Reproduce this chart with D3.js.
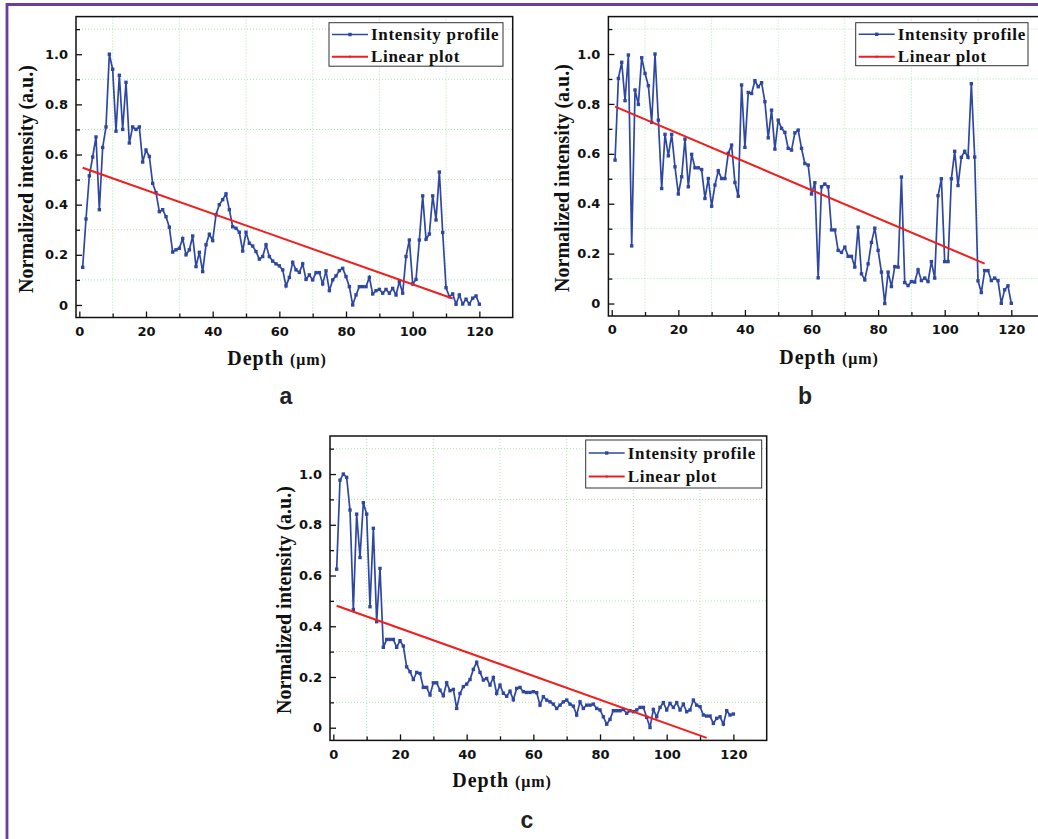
<!DOCTYPE html>
<html>
<head>
<meta charset="utf-8">
<script src="https://cdn.jsdelivr.net/npm/d3@7/dist/d3.min.js"></script>
<style>
  body { margin: 0; background: #fff; }
  svg { display: block; }
</style>
</head>
<body>
<svg id="fig" width="1038" height="839"></svg>
<script>
// depth positions (um), one sample per micron
const depth = d3.range(1, 121);

// normalized intensity profiles
const intensityA = [
  0.15, 0.343, 0.515, 0.59, 0.67, 0.38, 0.628, 0.71, 1.0, 0.94,
  0.693, 0.916, 0.70, 0.888, 0.646, 0.71, 0.70, 0.71, 0.57, 0.618,
  0.592, 0.485, 0.448, 0.372, 0.38, 0.352, 0.31, 0.211, 0.22, 0.226,
  0.265, 0.2, 0.22, 0.275, 0.153, 0.21, 0.133, 0.24, 0.282, 0.257,
  0.36, 0.40, 0.42, 0.443, 0.38, 0.312, 0.306, 0.29, 0.215, 0.29,
  0.246, 0.235, 0.213, 0.183, 0.193, 0.24, 0.193, 0.175, 0.164, 0.156,
  0.14, 0.076, 0.11, 0.17, 0.14, 0.13, 0.164, 0.102, 0.12, 0.1,
  0.129, 0.129, 0.084, 0.136, 0.057, 0.1, 0.116, 0.137, 0.146, 0.113,
  0.073, 0.0, 0.04, 0.073, 0.073, 0.073, 0.11, 0.044, 0.057, 0.062,
  0.047, 0.062, 0.047, 0.066, 0.04, 0.093, 0.047, 0.193, 0.259, 0.084,
  0.102, 0.259, 0.435, 0.262, 0.283, 0.435, 0.339, 0.53, 0.289, 0.069,
  0.033, 0.044, 0.003, 0.04, 0.004, 0.023, 0.004, 0.027, 0.036, 0.003
];
const intensityB = [
  0.575, 0.902, 0.967, 0.813, 0.996, 0.231, 0.856, 0.798, 0.985, 0.922,
  0.873, 0.726, 1.0, 0.735, 0.461, 0.678, 0.592, 0.678, 0.548, 0.439,
  0.508, 0.659, 0.468, 0.598, 0.544, 0.544, 0.537, 0.421, 0.501, 0.39,
  0.475, 0.532, 0.501, 0.501, 0.602, 0.635, 0.485, 0.43, 0.876, 0.626,
  0.846, 0.842, 0.893, 0.869, 0.885, 0.809, 0.664, 0.775, 0.619, 0.735,
  0.702, 0.686, 0.622, 0.615, 0.684, 0.695, 0.622, 0.561, 0.555, 0.439,
  0.484, 0.103, 0.468, 0.479, 0.468, 0.295, 0.295, 0.213, 0.205, 0.226,
  0.189, 0.189, 0.146, 0.306, 0.119, 0.095, 0.159, 0.245, 0.302, 0.213,
  0.126, 0.0, 0.126, 0.068, 0.148, 0.146, 0.507, 0.084, 0.072, 0.088,
  0.086, 0.135, 0.092, 0.102, 0.088, 0.168, 0.102, 0.432, 0.5, 0.168,
  0.168, 0.5, 0.61, 0.473, 0.586, 0.61, 0.586, 0.881, 0.587, 0.091,
  0.044, 0.132, 0.132, 0.092, 0.102, 0.092, 0.001, 0.055, 0.071, 0.001
];
const intensityC = [
  0.625, 0.976, 1.0, 0.987, 0.858, 0.466, 0.842, 0.671, 0.887, 0.842,
  0.477, 0.786, 0.418, 0.628, 0.317, 0.348, 0.348, 0.348, 0.317, 0.343,
  0.322, 0.24, 0.221, 0.19, 0.218, 0.214, 0.159, 0.159, 0.129, 0.177,
  0.177, 0.148, 0.126, 0.177, 0.146, 0.151, 0.076, 0.135, 0.162, 0.172,
  0.19, 0.23, 0.258, 0.218, 0.188, 0.194, 0.168, 0.198, 0.135, 0.168,
  0.136, 0.124, 0.144, 0.11, 0.155, 0.159, 0.142, 0.139, 0.139, 0.142,
  0.138, 0.089, 0.122, 0.109, 0.102, 0.093, 0.076, 0.089, 0.102, 0.109,
  0.093, 0.085, 0.05, 0.102, 0.076, 0.089, 0.089, 0.093, 0.076, 0.07,
  0.043, 0.014, 0.033, 0.067, 0.067, 0.067, 0.072, 0.057, 0.067, 0.063,
  0.07, 0.08, 0.08, 0.041, 0.001, 0.072, 0.043, 0.08, 0.099, 0.07,
  0.096, 0.08, 0.099, 0.07, 0.093, 0.063, 0.07, 0.109, 0.089, 0.083,
  0.05, 0.046, 0.046, 0.017, 0.037, 0.043, 0.014, 0.067, 0.05, 0.054
];

// linear fit end points
const fitDepth = [1, 112];
const fitA = [0.547, 0.026];
const fitB = [0.789, 0.160];
const fitC = [0.481, -0.040];

const xMajor = [0, 20, 40, 60, 80, 100, 120];
const xMinor = [10, 30, 50, 70, 90, 110];
const yMajor = [0, 0.2, 0.4, 0.6, 0.8, 1.0];
const yMinor = [0.1, 0.3, 0.5, 0.7, 0.9, 1.1];
const legendLabels = ["Intensity profile", "Linear plot"];

const BLUE = "#2e47a2";
const RED = "#f21d1d";
const SERIF = "'Liberation Serif', 'Times New Roman', serif";
const SANS = "'DejaVu Sans', Verdana, sans-serif";

const svg = d3.select("#fig");

// purple corner border of the figure
svg.append("line").attr("x1", 7).attr("y1", 4.5).attr("x2", 1038).attr("y2", 4.5)
  .attr("stroke", "#6a3d9e").attr("stroke-width", 2.8);
svg.append("line").attr("x1", 7).attr("y1", 3).attr("x2", 7).attr("y2", 839)
  .attr("stroke", "#6a3d9e").attr("stroke-width", 2.8);

const panels = [
  { values: intensityA, fit: fitA, letter: "a",
    left: 76, right: 512.7, top: 16.6, bottom: 317.5,
    legend: { x: 329, y: 22.7, w: 174, h: 43.5, r1: 11.8, r2: 34 },
    xLab: [277, 365], yLab: [33, 179], letterPos: [286, 404] },
  { values: intensityB, fit: fitB, letter: "b",
    left: 608.4, right: 1044.6, top: 16.6, bottom: 316,
    legend: { x: 855.7, y: 22.7, w: 172.3, h: 43, r1: 11.6, r2: 34 },
    xLab: [829, 364], yLab: [569, 178], letterPos: [805, 404] },
  { values: intensityC, fit: fitC, letter: "c",
    left: 330, right: 766.7, top: 436, bottom: 740.4,
    legend: { x: 585.7, y: 440, w: 176, h: 48, r1: 13, r2: 36.5 },
    xLab: [502, 787], yLab: [291, 600], letterPos: [527, 828] }
];

panels.forEach(drawPanel);

function drawPanel(p) {
  const x = d3.scaleLinear().domain([-1, 130]).range([p.left, p.right]);
  const y = d3.scaleLinear().domain([-0.05, 1.15]).range([p.bottom, p.top]);
  const g = svg.append("g");

  // dotted grid at the minor positions
  g.selectAll(".gx").data(xMinor).enter().append("line")
    .attr("x1", d => x(d)).attr("x2", d => x(d))
    .attr("y1", p.top).attr("y2", p.bottom)
    .attr("stroke", "#9fd89f").attr("stroke-width", 0.8)
    .attr("stroke-dasharray", "1,2");
  g.selectAll(".gy").data(yMinor).enter().append("line")
    .attr("y1", d => y(d)).attr("y2", d => y(d))
    .attr("x1", p.left).attr("x2", p.right)
    .attr("stroke", "#9fd89f").attr("stroke-width", 0.8)
    .attr("stroke-dasharray", "1,2");

  // axes with inward ticks
  const ax = g.append("g").attr("transform", `translate(0,${p.bottom})`)
    .call(d3.axisBottom(x).tickValues(xMajor).tickSize(-6).tickPadding(9)
      .tickFormat(d3.format("d")));
  const axm = g.append("g").attr("transform", `translate(0,${p.bottom})`)
    .call(d3.axisBottom(x).tickValues(xMinor).tickSize(-4).tickFormat(""));
  const ay = g.append("g").attr("transform", `translate(${p.left},0)`)
    .call(d3.axisLeft(y).tickValues(yMajor).tickSize(-6).tickPadding(8)
      .tickFormat(d => d === 0 ? "0" : d3.format(".1f")(d)));
  const aym = g.append("g").attr("transform", `translate(${p.left},0)`)
    .call(d3.axisLeft(y).tickValues(yMinor).tickSize(-4).tickFormat(""));
  [ax, axm, ay, aym].forEach(a => {
    a.select(".domain").remove();
    a.selectAll(".tick line").attr("stroke", "#111").attr("stroke-width", 1.3);
    a.selectAll("text").attr("font-family", SANS).attr("font-weight", "bold")
      .attr("font-size", 13).attr("fill", "#111");
  });

  // frame
  g.append("rect").attr("x", p.left).attr("y", p.top)
    .attr("width", p.right - p.left).attr("height", p.bottom - p.top)
    .attr("fill", "none").attr("stroke", "#111").attr("stroke-width", 1.5);

  // clip to plot area
  const cid = "clip-" + p.letter;
  g.append("clipPath").attr("id", cid).append("rect")
    .attr("x", p.left).attr("y", p.top)
    .attr("width", p.right - p.left).attr("height", p.bottom - p.top);
  const plot = g.append("g").attr("clip-path", `url(#${cid})`);

  const line = d3.line().x(d => x(d[0])).y(d => y(d[1]));
  const pts = depth.map((d, i) => [d, p.values[i]]);

  plot.append("path").datum(pts).attr("d", line)
    .attr("fill", "none").attr("stroke", BLUE).attr("stroke-width", 1.7);
  plot.selectAll(".m").data(pts).enter().append("rect")
    .attr("x", d => x(d[0]) - 1.7).attr("y", d => y(d[1]) - 1.7)
    .attr("width", 3.4).attr("height", 3.4).attr("fill", BLUE);

  const fitPts = fitDepth.map((d, i) => [d, p.fit[i]]);
  plot.append("path").datum(fitPts).attr("d", line)
    .attr("fill", "none").attr("stroke", RED).attr("stroke-width", 2);

  // legend
  const L = p.legend;
  const lg = g.append("g").attr("transform", `translate(${L.x},${L.y})`);
  lg.append("rect").attr("width", L.w).attr("height", L.h)
    .attr("fill", "#fff").attr("stroke", "#333").attr("stroke-width", 1);
  [[L.r1, BLUE, 3.4], [L.r2, RED, 2]].forEach((r, i) => {
    lg.append("line").attr("x1", 3).attr("x2", 39).attr("y1", r[0]).attr("y2", r[0])
      .attr("stroke", r[1]).attr("stroke-width", i === 0 ? 1.6 : 2);
    lg.append("rect").attr("x", 21 - r[2] / 2).attr("y", r[0] - r[2] / 2)
      .attr("width", r[2]).attr("height", r[2]).attr("fill", r[1]);
    lg.append("text").attr("x", 42).attr("y", r[0] + 5.8)
      .attr("font-family", SERIF).attr("font-weight", "bold").attr("font-size", 17)
      .attr("letter-spacing", 0.7).attr("fill", "#111").text(legendLabels[i]);
  });

  // axis titles
  const xt = svg.append("text").attr("x", p.xLab[0]).attr("y", p.xLab[1])
    .attr("text-anchor", "middle").attr("font-family", SERIF)
    .attr("font-weight", "bold").attr("fill", "#111").attr("letter-spacing", 0.9);
  xt.append("tspan").attr("font-size", 20).text("Depth ");
  xt.append("tspan").attr("font-size", 16).text("(μm)");

  svg.append("text")
    .attr("transform", `translate(${p.yLab[0]},${p.yLab[1]}) rotate(-90)`)
    .attr("text-anchor", "middle").attr("font-family", SERIF)
    .attr("font-weight", "bold").attr("font-size", 20).attr("fill", "#111")
    .text("Normalized intensity (a.u.)");

  svg.append("text").attr("x", p.letterPos[0]).attr("y", p.letterPos[1])
    .attr("text-anchor", "middle")
    .attr("font-family", "'Liberation Sans', Arial, sans-serif")
    .attr("font-weight", "bold").attr("font-size", 23).attr("fill", "#222")
    .text(p.letter);
}
</script>
</body>
</html>
